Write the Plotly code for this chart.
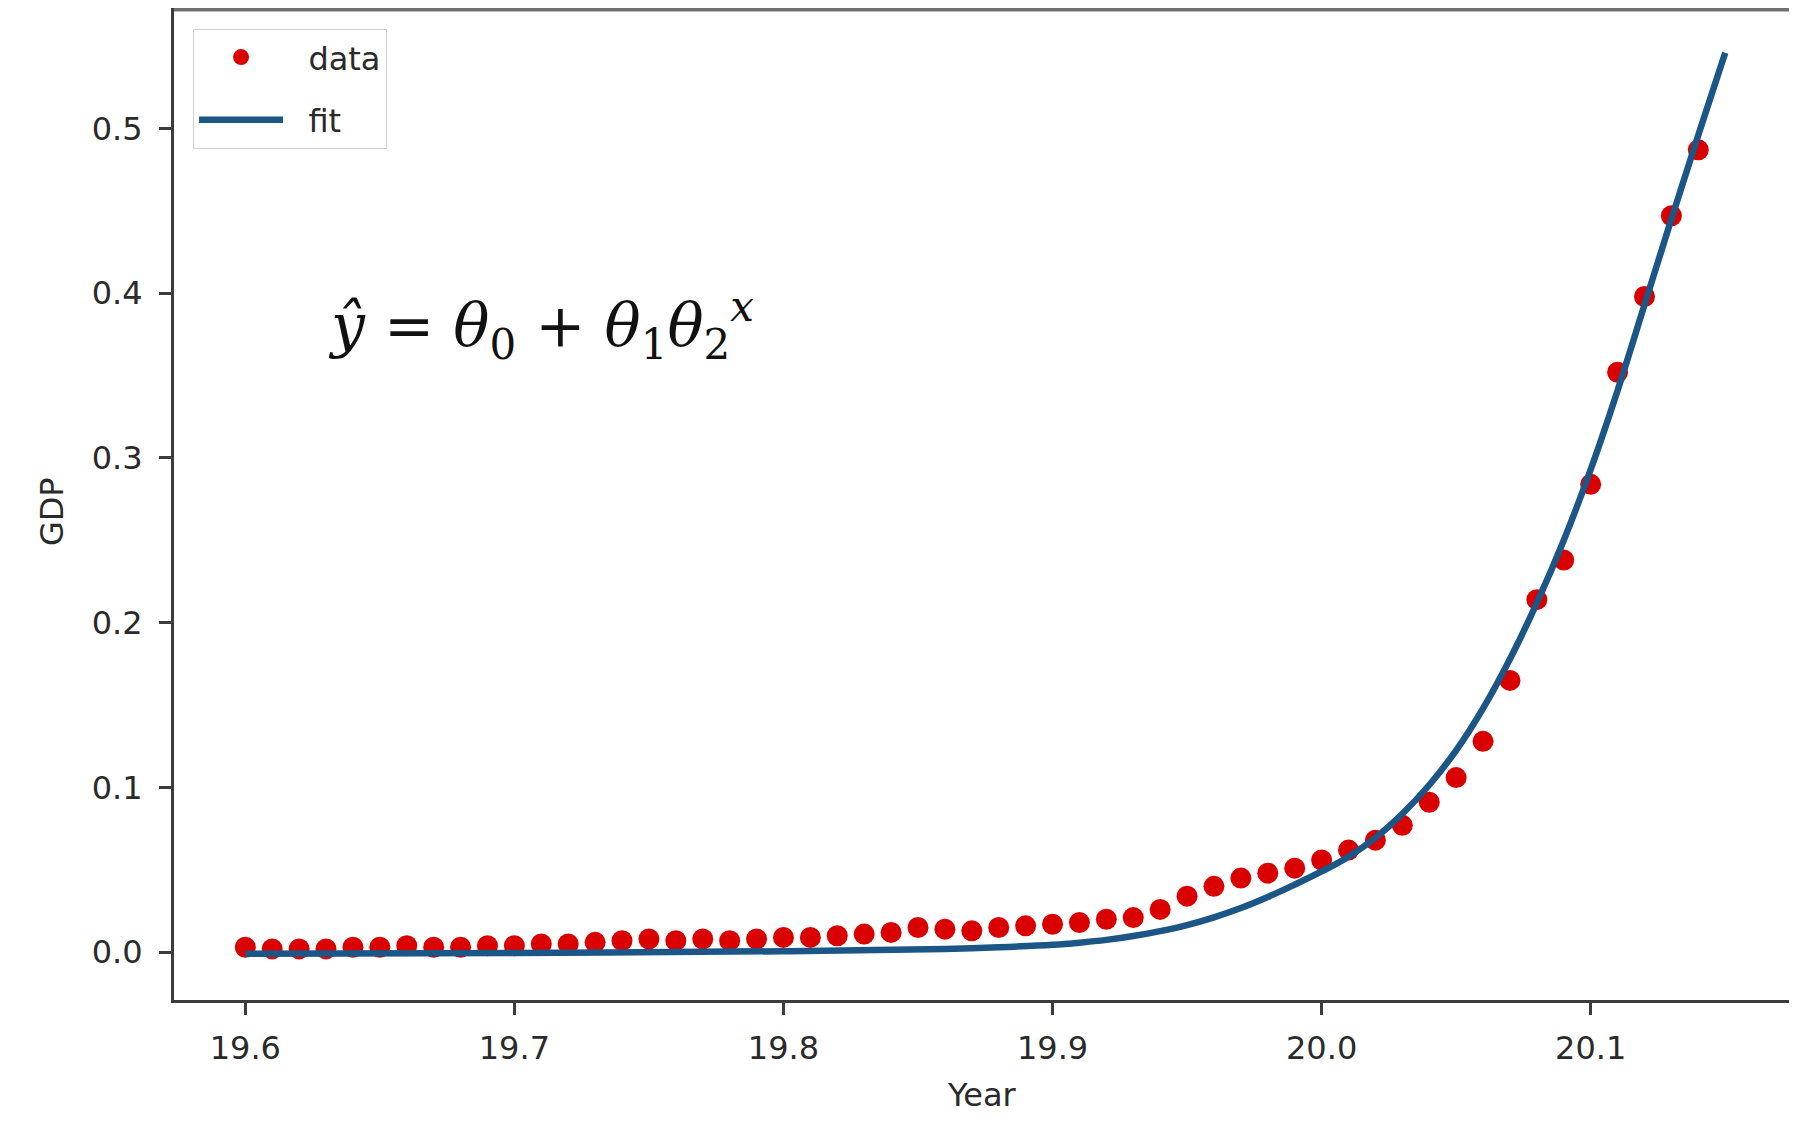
import plotly.graph_objects as go

# ---- data ----
year_x = [19.60, 19.61, 19.62, 19.63, 19.64, 19.65, 19.66, 19.67, 19.68, 19.69,
          19.70, 19.71, 19.72, 19.73, 19.74, 19.75, 19.76, 19.77, 19.78, 19.79,
          19.80, 19.81, 19.82, 19.83, 19.84, 19.85, 19.86, 19.87, 19.88, 19.89,
          19.90, 19.91, 19.92, 19.93, 19.94, 19.95, 19.96, 19.97, 19.98, 19.99,
          20.00, 20.01, 20.02, 20.03, 20.04, 20.05, 20.06, 20.07, 20.08, 20.09,
          20.10, 20.11, 20.12, 20.13, 20.14]
gdp_y = [0.003, 0.002, 0.002, 0.002, 0.003, 0.003, 0.004, 0.003, 0.003, 0.004,
         0.004, 0.005, 0.005, 0.006, 0.007, 0.008, 0.007, 0.008, 0.007, 0.008,
         0.009, 0.009, 0.010, 0.011, 0.012, 0.015, 0.014, 0.013, 0.015, 0.016,
         0.017, 0.018, 0.020, 0.021, 0.026, 0.034, 0.040, 0.045, 0.048, 0.051,
         0.056, 0.062, 0.068, 0.077, 0.091, 0.106, 0.128, 0.165, 0.214, 0.238,
         0.284, 0.352, 0.398, 0.447, 0.487]

fit_x = [19.60, 19.70, 19.80, 19.86, 19.88, 19.90, 19.91, 19.92, 19.93, 19.94,
         19.95, 19.96, 19.97, 19.98, 19.99, 20.00, 20.01, 20.02, 20.03, 20.04,
         20.05, 20.06, 20.07, 20.08, 20.09, 20.10, 20.11, 20.12, 20.13, 20.14, 20.15]
fit_y = [-0.001, -0.0004, 0.0006, 0.002, 0.003, 0.0045, 0.0058, 0.0075, 0.0098, 0.0128,
         0.0165, 0.0212, 0.0268, 0.0335, 0.041, 0.049, 0.058, 0.0695, 0.084, 0.1015,
         0.1225, 0.148, 0.178, 0.212, 0.250, 0.293, 0.341, 0.393, 0.445, 0.496, 0.546]

x_ticks = [19.6, 19.7, 19.8, 19.9, 20.0, 20.1]
x_tick_labels = ["19.6", "19.7", "19.8", "19.9", "20.0", "20.1"]
y_ticks = [0.0, 0.1, 0.2, 0.3, 0.4, 0.5]
y_tick_labels = ["0.0", "0.1", "0.2", "0.3", "0.4", "0.5"]

TEXT = "#2a2a2a"
FONT = "DejaVu Sans"
FS = 32
PAD = "\u00a0\u00a0"

fig = go.Figure()
fig.add_trace(go.Scatter(
    x=year_x, y=gdp_y, mode="markers", name=PAD + "data", legendgroup="a",
    marker=dict(color="#da0000", size=21, line=dict(width=0)),
))
fig.add_trace(go.Scatter(
    x=fit_x, y=fit_y, mode="lines", name=PAD + "fit", legendgroup="b",
    line=dict(color="#1b5686", width=6.5, shape="spline", smoothing=1.0),
))

axis_common = dict(
    showgrid=False, zeroline=False, showline=True, mirror=True,
    linecolor="#3c3c3c", linewidth=3,
    ticks="outside", ticklen=12, tickwidth=2.5, tickcolor="#3c3c3c",
    tickfont=dict(family=FONT, size=FS, color=TEXT),
)

# the page body has an 8px default margin: the figure is sized to fit the window
fig.update_layout(
    width=1781, height=1108,
    paper_bgcolor="white", plot_bgcolor="white",
    margin=dict(l=166, r=0, t=1, b=116, autoexpand=False),
    xaxis=dict(range=[19.5735, 20.1737], tickvals=x_ticks, ticktext=x_tick_labels,
               ticklabelstandoff=6, **axis_common),
    yaxis=dict(range=[-0.029, 0.5725], tickvals=y_ticks, ticktext=y_tick_labels,
               ticklabelstandoff=10, **axis_common),
    showlegend=True,
    legend=dict(
        x=0.0118, y=0.98, xanchor="left", yanchor="top",
        bgcolor="rgba(255,255,255,0.9)", bordercolor="#d0d0d0", borderwidth=1,
        font=dict(family=FONT, size=FS, color=TEXT),
        traceorder="grouped", tracegroupgap=18, itemwidth=84,
    ),
    shapes=[
        dict(type="line", xref="paper", yref="paper", x0=0, x1=1, y0=1, y1=1,
             line=dict(color="#707070", width=5)),
    ],
    annotations=[
        dict(text="Year", xref="paper", yref="paper", x=0.5, y=-0.0954,
             xanchor="center", yanchor="middle", showarrow=False,
             font=dict(family=FONT, size=FS, color=TEXT)),
        dict(text="GDP", xref="paper", yref="paper", x=-0.0755, y=0.4924,
             xanchor="center", yanchor="middle", showarrow=False, textangle=-90,
             font=dict(family=FONT, size=FS, color=TEXT)),
        dict(text="<i>ŷ</i> = <i>θ</i><sub>0</sub> + <i>θ</i><sub>1</sub><i>θ</i><sub>2</sub><sup><i>x</i></sup>",
             xref="paper", yref="paper", x=0.094, y=0.681,
             xanchor="left", yanchor="middle", showarrow=False,
             font=dict(family="DejaVu Serif", size=60, color="#111111")),
    ],
)

fig.write_html("out.html")
